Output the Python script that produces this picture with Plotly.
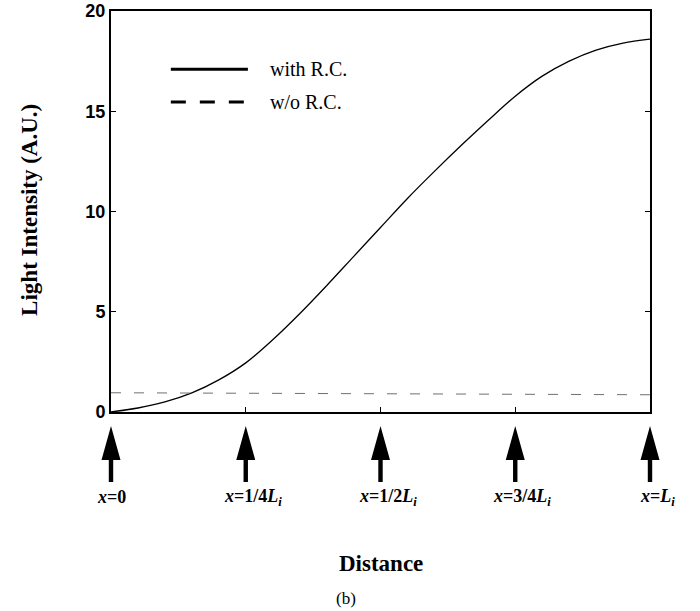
import plotly.graph_objects as go

# Data (distance in units of L_i)
x_rc = [0.0, 0.05, 0.1, 0.15, 0.2, 0.25, 0.3, 0.35, 0.4, 0.45, 0.5,
        0.55, 0.6, 0.65, 0.7, 0.75, 0.8, 0.85, 0.9, 0.95, 1.0]
y_rc = [0.0, 0.2, 0.5, 0.95, 1.6, 2.45, 3.6, 4.9, 6.3, 7.75, 9.2,
        10.65, 12.0, 13.3, 14.55, 15.75, 16.75, 17.5, 18.05, 18.4, 18.6]
x_norc = [0.0, 0.25, 0.5, 0.75, 1.0]
y_norc = [0.96, 0.93, 0.90, 0.88, 0.86]

arrow_x = [0.0, 0.25, 0.5, 0.75, 1.0]
arrow_labels = ["<i>x</i>=0", "<i>x</i>=1/4<i>L<sub>i</sub></i>", "<i>x</i>=1/2<i>L<sub>i</sub></i>",
                "<i>x</i>=3/4<i>L<sub>i</sub></i>", "<i>x</i>=<i>L<sub>i</sub></i>"]
y_ticks = [0, 5, 10, 15, 20]
x_ticks = [0.25, 0.5, 0.75]
legend_names = ["with R.C.", "w/o R.C."]

fig = go.Figure()
fig.add_trace(go.Scatter(x=x_rc, y=y_rc, mode="lines",
                         line=dict(color="black", width=1.3, shape="spline", smoothing=1.0),
                         showlegend=False, hoverinfo="skip"))
fig.add_trace(go.Scatter(x=x_norc, y=y_norc, mode="lines", line=dict(color="#707070", width=1, dash="10px,13px"),
                         showlegend=False, hoverinfo="skip"))

serif = "Liberation Serif"
shapes = []
annotations = []
# x-axis range is [0, 1], so paper x equals data x here (paper shapes are not clipped)
for ax, lab in zip(arrow_x, arrow_labels):
    shapes.append(dict(type="path", xref="paper", yref="paper", xsizemode="pixel", ysizemode="pixel",
                       xanchor=ax, yanchor=0,
                       path="M0,-14 L-9.5,-48 L-2.2,-48 L-2.2,-70 L2.2,-70 L2.2,-48 L9.5,-48 Z",
                       fillcolor="black", line=dict(color="black", width=0)))
    annotations.append(dict(x=ax, y=0, xref="x", yref="paper", yshift=-85,
                            xshift=(7 if "<sub>" in lab else 0), showarrow=False,
                            text=lab, xanchor="center", yanchor="middle",
                            font=dict(family=serif, size=18, color="black", weight="bold")))

# legend drawn in paper coords
shapes.append(dict(type="line", xref="paper", yref="paper", x0=0.111, x1=0.254, y0=0.855, y1=0.855,
                   line=dict(color="black", width=3)))
shapes.append(dict(type="line", xref="paper", yref="paper", x0=0.111, x1=0.254, y0=0.773, y1=0.773,
                   line=dict(color="black", width=3, dash="15px,14px")))
for name, yy in zip(legend_names, [0.855, 0.773]):
    annotations.append(dict(x=0.291, y=yy, xref="paper", yref="paper", showarrow=False, text=name,
                            xanchor="left", yanchor="middle",
                            font=dict(family=serif, size=20, color="black")))

annotations.append(dict(x=0.5, y=0, xref="paper", yref="paper", yshift=-151, showarrow=False,
                        text="Distance", xanchor="center", yanchor="middle",
                        font=dict(family=serif, size=23, color="black", weight="bold")))
annotations.append(dict(x=0.436, y=0, xref="paper", yref="paper", yshift=-186, showarrow=False,
                        text="(b)", xanchor="center", yanchor="middle",
                        font=dict(family=serif, size=17, color="black")))
annotations.append(dict(x=0, y=0.504, xref="paper", yref="paper", xshift=-81, showarrow=False,
                        text="Light Intensity (A.U.)", textangle=-90, xanchor="center", yanchor="middle",
                        font=dict(family=serif, size=23, color="black", weight="bold")))

fig.update_layout(
    template="none",
    width=700, height=611,
    margin=dict(l=111, r=50, t=11, b=199, pad=0),
    paper_bgcolor="white", plot_bgcolor="white",
    shapes=shapes, annotations=annotations,
    xaxis=dict(range=[0, 1], tickvals=x_ticks, showticklabels=False, ticks="inside", ticklen=5,
               tickcolor="black", tickwidth=1, showline=True, linecolor="black", linewidth=2,
               mirror=True, showgrid=False, zeroline=False, automargin=False),
    yaxis=dict(range=[0, 20], tickvals=y_ticks, ticks="inside", ticklen=5, tickcolor="black",
               tickwidth=1, showline=True, linecolor="black", linewidth=2, mirror="ticks",
               showgrid=False, zeroline=False, automargin=False,
               tickfont=dict(family="Liberation Sans", size=18, color="black", weight="bold")),
)

fig.write_html("out.html", config={"displayModeBar": False},
               post_script="document.body.style.margin='0';")
